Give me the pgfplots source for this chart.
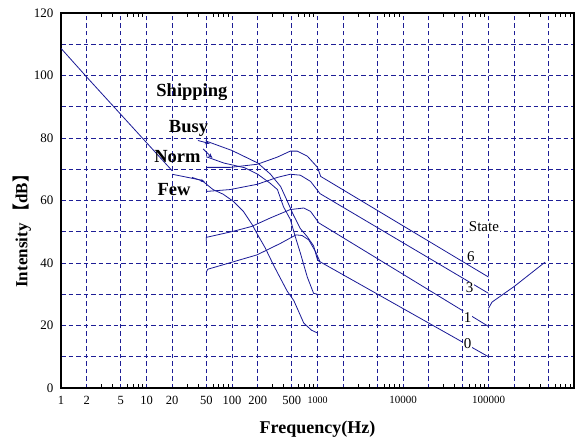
\documentclass[border=0pt]{standalone}
\usepackage{pgfplots}
\pgfplotsset{compat=1.18}
\usepackage{fontspec}
\setmainfont{Liberation Serif}
\newfontfamily\cjk{Noto Sans CJK SC}
\usetikzlibrary{arrows.meta}
\definecolor{curvec}{RGB}{25,25,150}
\definecolor{gridc}{RGB}{30,30,150}
\pgfplotsset{curve/.style={color=curvec, solid, line width=0.8pt, mark=none}}
\begin{document}
\begin{tikzpicture}
\begin{axis}[
  at={(0pt,0pt)}, anchor=south west,
  scale only axis, width=513pt, height=375pt,
  xmode=log, log basis x=10,
  xmin=1, xmax=1e6, ymin=0, ymax=120,
  xtick={1,2,5,10,20,50,100,200,500,1000,2000,5000,10000,20000,50000,100000,200000,500000},
  xticklabels={1,2,5,10,20,50,100,200,500,{\fontsize{10}{10}\selectfont 1000},,,{\fontsize{11}{11}\selectfont 10000},,,{\fontsize{11}{11}\selectfont 100000},,},
  minor xtick={3,4,6,7,8,9,30,40,60,70,80,90,300,400,600,700,800,900,3000,4000,6000,7000,8000,9000,30000,40000,60000,70000,80000,90000,300000,400000,600000,700000,800000,900000},
  ytick={0,20,...,120}, minor ytick={10,30,...,110},
  xmajorgrids, ymajorgrids, yminorgrids,
  major grid style={gridc, line width=1pt, dash pattern=on 4.5pt off 3pt},
  minor grid style={gridc, line width=1pt, dash pattern=on 4.5pt off 3pt},
  axis line style={black, line width=1.2pt},
  major tick length=0pt, minor tick length=4pt,
  minor x tick style={black, line width=0.8pt},
  minor y tick style={draw=none},
  xtick pos=both, ytick pos=left,
  /pgf/number format/assume math mode=true,
  xticklabel style={font=\fontsize{12.5}{12.5}\selectfont, yshift=-5pt},
  yticklabel style={font=\fontsize{13}{13}\selectfont, xshift=-4pt},
  xlabel={\textbf{Frequency(Hz)}},
  xlabel style={font=\fontsize{18}{18}\selectfont, at={(axis description cs:0.5,0)}, anchor=center, yshift=-41pt},
  ylabel={\textbf{Intensity}\,{\cjk\bfseries 【}\textbf{dB}{\cjk\bfseries 】}},
  ylabel style={font=\fontsize{17}{17}\selectfont, at={(axis description cs:0,0.43)}, rotate=0, anchor=center, yshift=39pt},
  clip=true,
]
% turbulence / shipping line
\addplot[curve] coordinates {(1,108.7) (2,99.5) (20,69.5)};
% Busy
\addplot[curve] coordinates {(50,79) (100,76) (200,72) (280,68.5) (370,64.5) (440,60) (520,55.5) (630,51) (760,48.4) (900,45.5) (1000,41) (1070,40.3)};
% Norm
\addplot[curve] coordinates {(50,74) (80,72) (140,70.5) (200,68.4) (280,65.5) (340,63.5) (400,58) (480,54) (550,48.4) (630,43.2) (760,35.5) (900,30.3) (1000,30)};
% Few
\addplot[curve] coordinates {(20,68.4) (44,66.5) (60,63.5) (79,62) (104,59.7) (136,56.5) (172,52.3) (200,49) (245,44.8) (305,39.4) (370,35) (442,31) (528,28) (690,20.8) (850,18.5) (1000,17.6)};
% State 6
\addplot[curve] coordinates {(50,70.6) (95,70.6) (198,71.6) (340,73.9) (480,75.8) (580,75.8) (760,74.2) (1000,70.6) (1090,67.7) (100000,35.5)};
% State 3
\addplot[curve] coordinates {(50,62.9) (95,63.5) (198,65.2) (340,67.4) (480,68.4) (630,68.1) (830,66.1) (1070,62.2) (100000,30.3)};
% State 1
\addplot[curve] coordinates {(50,47) (50,48.2) (102,50.1) (170,51.7) (280,54.4) (480,57.1) (690,57.6) (830,56.5) (1040,52.8) (1300,51.2) (100000,19.7)};
% State 0
\addplot[curve] coordinates {(50,37) (52,38) (104,40.4) (196,42.6) (370,46.3) (560,49) (660,48.8) (790,47.4) (950,43.6) (1070,40.4) (100000,10)};
% Thermal
\addplot[curve] coordinates {(100000,25.5) (110000,27.5) (200000,32.5) (460000,40.3)};

\node[font=\bfseries\fontsize{18.5}{18.5}\selectfont] at (axis cs:34,94.8) {Shipping};
\node[font=\bfseries\fontsize{18.5}{18.5}\selectfont] at (axis cs:31,83.2) {Busy};
\node[font=\bfseries\fontsize{18.5}{18.5}\selectfont] at (axis cs:23,74.2) {Norm};
\node[font=\bfseries\fontsize{18.5}{18.5}\selectfont] at (axis cs:21,63.5) {Few};
\draw[curvec, line width=0.8pt, -{Stealth[length=5pt]}] (axis cs:40,79.2) -- (axis cs:55,78.2);
\draw[curvec, line width=0.8pt, -{Stealth[length=5pt]}] (axis cs:46,76.5) -- (axis cs:59,73.6);
\draw[curvec, line width=0.8pt, -{Stealth[length=4pt]}] (axis cs:34,67.4) -- (axis cs:48,66);
\node[font=\fontsize{15}{15}\selectfont, fill=white, inner sep=1pt] at (axis cs:88500,51.6) {State};
\node[font=\fontsize{15}{15}\selectfont, fill=white, inner sep=1pt] at (axis cs:62000,42) {6};
\node[font=\fontsize{15}{15}\selectfont, fill=white, inner sep=1pt] at (axis cs:60000,32) {3};
\node[font=\fontsize{15}{15}\selectfont, fill=white, inner sep=1pt] at (axis cs:57000,22.6) {1};
\node[font=\fontsize{15}{15}\selectfont, fill=white, inner sep=1pt] at (axis cs:57000,14.2) {0};
\end{axis}
\pgfresetboundingbox
\path (-61pt,-52pt) rectangle (514pt,388pt);
\end{tikzpicture}
\end{document}
